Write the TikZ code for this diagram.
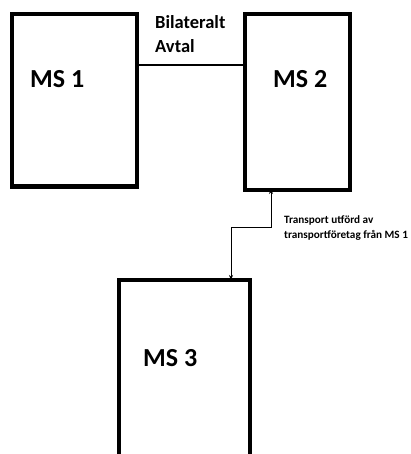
\documentclass[tikz,border=0pt]{standalone}
\usepackage{fontspec}
\setmainfont{Carlito}
\usetikzlibrary{arrows.meta}
\begin{document}
\begin{tikzpicture}[x=1pt,y=-1pt,
  box/.style={draw=black,line width=4pt,fill=white,rectangle,inner sep=0pt},
  big/.style={font=\fontsize{26}{28}\selectfont\bfseries,inner sep=0pt,anchor=base west},
  mid/.style={font=\fontsize{18.5}{24}\selectfont\bfseries,inner sep=0pt,anchor=base west,align=left},
  small/.style={font=\fontsize{11.2}{15.5}\selectfont\bfseries,inner sep=0pt,anchor=base west,align=left}]
\useasboundingbox (0,0) rectangle (410,454);
\begin{scope}
\clip (0,0) rectangle (410,454);
\node[box,minimum width=125pt,minimum height=172pt] (ms1) at (74.5,100.5) {};
\node[box,minimum width=105pt,minimum height=176pt] (ms2) at (297.5,102) {};
\node[box,minimum width=131pt,minimum height=200pt] (ms3) at (184.5,380) {};
\end{scope}
\node[big] (t1) at (30,88) {MS 1};
\node[big] (t2) at (273,88) {MS 2};
\node[big] (t3) at (143,366) {MS 3};
\node[mid] (lab) at (155,53) {Bilateralt\\Avtal};
\draw[line width=2.7pt] (ms1.east |- 0,65) -- (ms2.west |- 0,65);
\node[small] (tr) at (284,238.5) {Transport utförd av\\transportföretag från MS 1};
\coordinate (a) at ([xshift=-26.5pt,yshift=3pt]ms2.south);
\coordinate (b) at ([xshift=46.5pt,yshift=-2pt]ms3.north);
\draw[line width=0.8pt,{Stealth[length=5pt,width=4pt]}-{Stealth[length=5pt,width=4pt]}] (a) -- ++(0,38) -| (b);
\end{tikzpicture}
\end{document}
